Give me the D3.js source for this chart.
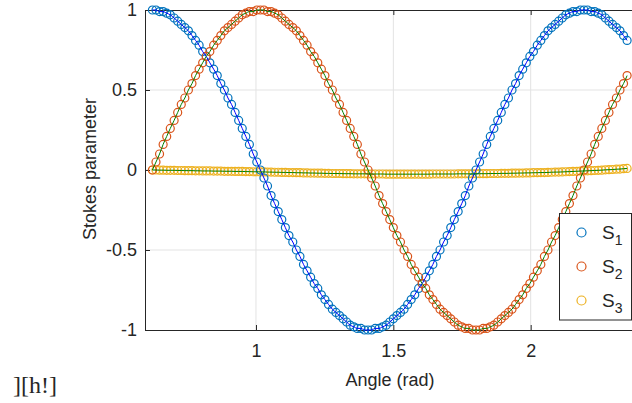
<!DOCTYPE html>
<html>
<head>
<meta charset="utf-8">
<script src="https://cdn.jsdelivr.net/npm/d3@7"></script>
<style>
  body { margin: 0; background: #fff; }
  svg { display: block; overflow: hidden; }
  text { font-family: "Liberation Sans", Arial, sans-serif; fill: #262626; }
</style>
</head>
<body>
<div id="chart"></div>
<script>
// rotation angle (rad)
const angles = [
  0.623, 0.636, 0.649, 0.662, 0.675, 0.688, 0.702, 0.715, 0.728, 0.741,
  0.754, 0.767, 0.780, 0.793, 0.806, 0.819, 0.832, 0.846, 0.859, 0.872,
  0.885, 0.898, 0.911, 0.924, 0.937, 0.950, 0.963, 0.976, 0.990, 1.003,
  1.016, 1.029, 1.042, 1.055, 1.068, 1.081, 1.094, 1.107, 1.120, 1.134,
  1.147, 1.160, 1.173, 1.186, 1.199, 1.212, 1.225, 1.238, 1.251, 1.264,
  1.278, 1.291, 1.304, 1.317, 1.330, 1.343, 1.356, 1.369, 1.382, 1.395,
  1.408, 1.421, 1.434, 1.448, 1.461, 1.474, 1.487, 1.500, 1.513, 1.526,
  1.539, 1.552, 1.565, 1.578, 1.592, 1.605, 1.618, 1.631, 1.644, 1.657,
  1.670, 1.683, 1.696, 1.709, 1.722, 1.736, 1.749, 1.762, 1.775, 1.788,
  1.801, 1.814, 1.827, 1.840, 1.853, 1.866, 1.880, 1.893, 1.906, 1.919,
  1.932, 1.945, 1.958, 1.971, 1.984, 1.997, 2.010, 2.024, 2.037, 2.050,
  2.063, 2.076, 2.089, 2.102, 2.115, 2.128, 2.141, 2.154, 2.168, 2.181,
  2.194, 2.207, 2.220, 2.233, 2.246, 2.259, 2.272, 2.285, 2.298, 2.312,
  2.325, 2.338, 2.351
];

const s1 = [
  1.00, 1.00, 0.99, 0.99, 0.98, 0.97, 0.95, 0.93, 0.91, 0.89,
  0.87, 0.84, 0.81, 0.78, 0.74, 0.71, 0.67, 0.63, 0.59, 0.54,
  0.50, 0.45, 0.41, 0.36, 0.31, 0.26, 0.21, 0.16, 0.10, 0.05,
  0.00, -0.05, -0.10, -0.16, -0.21, -0.26, -0.31, -0.36, -0.41, -0.45,
  -0.50, -0.54, -0.59, -0.63, -0.67, -0.71, -0.74, -0.78, -0.81, -0.84,
  -0.87, -0.89, -0.91, -0.93, -0.95, -0.97, -0.98, -0.99, -0.99, -1.00,
  -1.00, -1.00, -0.99, -0.99, -0.98, -0.97, -0.95, -0.93, -0.91, -0.89,
  -0.87, -0.84, -0.81, -0.78, -0.74, -0.71, -0.67, -0.63, -0.59, -0.54,
  -0.50, -0.45, -0.41, -0.36, -0.31, -0.26, -0.21, -0.16, -0.10, -0.05,
  0.00, 0.05, 0.10, 0.16, 0.21, 0.26, 0.31, 0.36, 0.41, 0.45,
  0.50, 0.54, 0.59, 0.63, 0.67, 0.71, 0.74, 0.78, 0.81, 0.84,
  0.87, 0.89, 0.91, 0.93, 0.95, 0.97, 0.98, 0.99, 0.99, 1.00,
  1.00, 1.00, 0.99, 0.99, 0.98, 0.97, 0.95, 0.93, 0.91, 0.89,
  0.87, 0.84, 0.81
];

const s2 = [
  0.00, 0.05, 0.10, 0.16, 0.21, 0.26, 0.31, 0.36, 0.41, 0.45,
  0.50, 0.54, 0.59, 0.63, 0.67, 0.71, 0.74, 0.78, 0.81, 0.84,
  0.87, 0.89, 0.91, 0.93, 0.95, 0.97, 0.98, 0.99, 0.99, 1.00,
  1.00, 1.00, 0.99, 0.99, 0.98, 0.97, 0.95, 0.93, 0.91, 0.89,
  0.87, 0.84, 0.81, 0.78, 0.74, 0.71, 0.67, 0.63, 0.59, 0.54,
  0.50, 0.45, 0.41, 0.36, 0.31, 0.26, 0.21, 0.16, 0.10, 0.05,
  0.00, -0.05, -0.10, -0.16, -0.21, -0.26, -0.31, -0.36, -0.41, -0.45,
  -0.50, -0.54, -0.59, -0.63, -0.67, -0.71, -0.74, -0.78, -0.81, -0.84,
  -0.87, -0.89, -0.91, -0.93, -0.95, -0.97, -0.98, -0.99, -0.99, -1.00,
  -1.00, -1.00, -0.99, -0.99, -0.98, -0.97, -0.95, -0.93, -0.91, -0.89,
  -0.87, -0.84, -0.81, -0.78, -0.74, -0.71, -0.67, -0.63, -0.59, -0.54,
  -0.50, -0.45, -0.41, -0.36, -0.31, -0.26, -0.21, -0.16, -0.10, -0.05,
  0.00, 0.05, 0.10, 0.16, 0.21, 0.26, 0.31, 0.36, 0.41, 0.45,
  0.50, 0.54, 0.59
];

const s3 = [
  0.000, 0.000, -0.001, -0.001, -0.002, -0.002, -0.002, -0.003, -0.003, -0.004,
  -0.004, -0.004, -0.005, -0.005, -0.006, -0.006, -0.006, -0.007, -0.007, -0.007,
  -0.008, -0.008, -0.008, -0.009, -0.009, -0.009, -0.010, -0.010, -0.011, -0.011,
  -0.012, -0.012, -0.013, -0.013, -0.014, -0.014, -0.015, -0.015, -0.016, -0.016,
  -0.017, -0.017, -0.018, -0.018, -0.019, -0.019, -0.020, -0.020, -0.021, -0.021,
  -0.022, -0.022, -0.022, -0.023, -0.023, -0.023, -0.024, -0.024, -0.024, -0.024,
  -0.025, -0.025, -0.025, -0.025, -0.025, -0.026, -0.026, -0.026, -0.026, -0.026,
  -0.026, -0.026, -0.026, -0.026, -0.026, -0.026, -0.026, -0.026, -0.025, -0.025,
  -0.025, -0.025, -0.025, -0.025, -0.025, -0.024, -0.024, -0.024, -0.024, -0.024,
  -0.024, -0.023, -0.023, -0.023, -0.022, -0.022, -0.022, -0.021, -0.021, -0.021,
  -0.020, -0.020, -0.019, -0.019, -0.018, -0.018, -0.017, -0.017, -0.016, -0.016,
  -0.015, -0.014, -0.013, -0.013, -0.012, -0.011, -0.010, -0.009, -0.008, -0.007,
  -0.006, -0.005, -0.004, -0.003, -0.002, -0.001, 0.001, 0.002, 0.003, 0.005,
  0.006, 0.008, 0.010
];

const xTicks = [1, 1.5, 2];
const yTicks = [-1, -0.5, 0, 0.5, 1];
const legendLabels = ["1", "2", "3"];

const width = 632;
const height = 403;
const margin = { top: 10, left: 145, bottom: 73 };
const plotHeight = height - margin.top - margin.bottom;

const xScale = d3.scaleLinear().domain([0.596, 2.4]).range([margin.left, margin.left + 1.804 * 274.7]);
const yScale = d3.scaleLinear().domain([-1, 1]).range([margin.top + plotHeight, margin.top]);

const svg = d3.select("#chart").append("svg")
  .attr("width", width)
  .attr("height", height);

svg.append("rect").attr("width", width).attr("height", height).attr("fill", "#fff");

const xRight = xScale.range()[1];

// grid
const grid = svg.append("g").attr("stroke", "#e3e3e3").attr("stroke-width", 1);
grid.selectAll("line.gx").data(xTicks).enter().append("line")
  .attr("x1", d => xScale(d)).attr("x2", d => xScale(d))
  .attr("y1", yScale(-1)).attr("y2", yScale(1));
grid.selectAll("line.gy").data(yTicks.filter(d => Math.abs(d) < 1)).enter().append("line")
  .attr("x1", margin.left).attr("x2", xRight)
  .attr("y1", d => yScale(d)).attr("y2", d => yScale(d));

// axes
const xAxis = d3.axisBottom(xScale).tickValues(xTicks).tickSize(-5).tickPadding(14).tickFormat(d3.format("~g"));
const yAxis = d3.axisLeft(yScale).tickValues(yTicks).tickSize(-5).tickPadding(8).tickFormat(d3.format("~g"));

const xAxisG = svg.append("g").attr("transform", `translate(0,${yScale(-1)})`).call(xAxis);
const xTopG = svg.append("g").attr("transform", `translate(0,${yScale(1)})`)
  .call(d3.axisTop(xScale).tickValues(xTicks).tickSize(-5).tickFormat(""));
const yAxisG = svg.append("g").attr("transform", `translate(${margin.left},0)`).call(yAxis);

[xAxisG, xTopG, yAxisG].forEach(g => {
  g.select(".domain").attr("stroke", "#262626").attr("stroke-width", 1);
  g.selectAll(".tick line").attr("stroke", "#262626");
  g.selectAll("text").style("font-size", "18px").attr("fill", "#262626")
    .style("font-family", "'Liberation Sans', Arial, sans-serif");
});
yAxisG.selectAll("text").text(d => d3.format("~g")(d).replace("−", "-"));

svg.append("text")
  .attr("x", 390).attr("y", 386)
  .attr("text-anchor", "middle")
  .style("font-size", "18px")
  .text("Angle (rad)");

svg.append("text")
  .attr("transform", "translate(96,169) rotate(-90)")
  .attr("text-anchor", "middle")
  .style("font-size", "18px")
  .text("Stokes parameter");

// data
const series = [
  { values: s1, color: "#0072BD", fit: "#0000FF" },
  { values: s2, color: "#D95319", fit: "#008000" },
  { values: s3, color: "#EDB120", fit: "#008000" }
];

const markerOrder = [2, 0, 1];
markerOrder.forEach(i => {
  const s = series[i];
  svg.append("g").selectAll("circle")
    .data(s.values)
    .enter()
    .append("circle")
    .attr("cx", (d, j) => xScale(angles[j]))
    .attr("cy", d => yScale(d))
    .attr("r", 4)
    .attr("fill", "none")
    .attr("stroke", s.color)
    .attr("stroke-width", 1.2);
});

const line = d3.line()
  .x((d, j) => xScale(angles[j]))
  .y(d => yScale(d))
  .curve(d3.curveMonotoneX);

series.forEach(s => {
  svg.append("path")
    .attr("d", line(s.values))
    .attr("fill", "none")
    .attr("stroke", s.fit)
    .attr("stroke-width", 1);
});

// legend
const legend = svg.append("g");
legend.append("rect")
  .attr("x", 559.5).attr("y", 213.5)
  .attr("width", 72).attr("height", 106.5)
  .attr("fill", "#fff").attr("stroke", "#262626").attr("stroke-width", 1);

series.forEach((s, i) => {
  const cy = 232.5 + i * 34;
  legend.append("circle")
    .attr("cx", 581.5).attr("cy", cy).attr("r", 4.5)
    .attr("fill", "none").attr("stroke", s.color).attr("stroke-width", 1.2);
  const t = legend.append("text")
    .attr("x", 602).attr("y", cy + 6)
    .style("font-size", "19px");
  t.append("tspan").text("S");
  t.append("tspan").attr("dy", 6).style("font-size", "14px").text(legendLabels[i]);
});

// stray LaTeX fragment under the figure
svg.append("text")
  .attr("x", 13).attr("y", 393)
  .style("font-family", "'Liberation Serif', 'Times New Roman', serif")
  .style("font-size", "24px")
  .attr("fill", "#000")
  .text("][h!]");
</script>
</body>
</html>
